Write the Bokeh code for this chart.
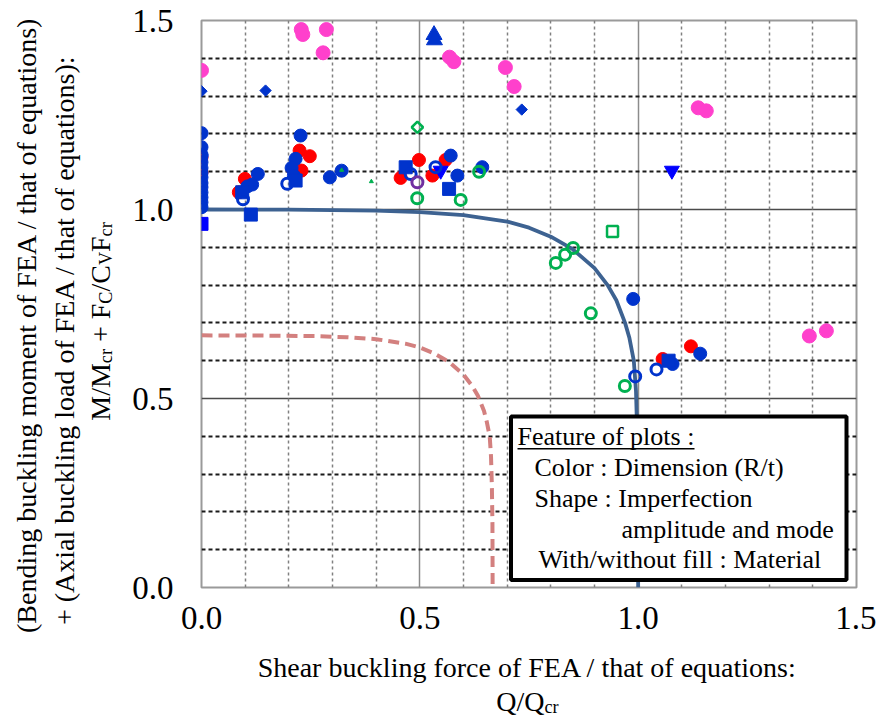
import numpy as np
from bokeh.plotting import figure
from bokeh.layouts import column, row
from bokeh.models import Range1d, FixedTicker, Grid, Label, BoxAnnotation, NumeralTickFormatter
from bokeh.embed import file_html
from bokeh.resources import INLINE

# ---------------- data ----------------
curve_x = [0.0, 0.2, 0.4, 0.5, 0.6, 0.7, 0.75, 0.8, 0.85, 0.9, 0.93, 0.95, 0.97, 0.98, 0.99, 0.995, 0.998, 0.9995, 1.0]
curve_y = [1.0, 0.9995, 0.997, 0.993, 0.985, 0.968, 0.952, 0.928, 0.895, 0.845, 0.80, 0.76, 0.70, 0.66, 0.60, 0.52, 0.40, 0.25, 0.0]

dash_x = [0.0, 0.133, 0.267, 0.333, 0.4, 0.467, 0.5, 0.533, 0.567, 0.6, 0.62, 0.633, 0.647, 0.653, 0.66, 0.663, 0.665, 0.6663, 0.6667]
dash_y = [0.667, 0.6665, 0.665, 0.662, 0.657, 0.645, 0.635, 0.619, 0.597, 0.563, 0.533, 0.507, 0.467, 0.44, 0.40, 0.347, 0.267, 0.167, 0.0]

pink_x = [0.0, 0.2285, 0.232, 0.286, 0.2785, 0.568, 0.578, 0.696, 0.716, 1.1375, 1.156, 1.392, 1.431]
pink_y = [1.368, 1.476, 1.463, 1.476, 1.4145, 1.403, 1.391, 1.3756, 1.3253, 1.269, 1.261, 0.6654, 0.679]

red_x = [0.0, 0.0, 0.0993, 0.0855, 0.2246, 0.248, 0.209, 0.229, 0.498, 0.456, 0.559, 0.5287, 1.056, 1.1208]
red_y = [1.138, 1.098, 1.081, 1.0455, 1.156, 1.141, 1.107, 1.103, 1.131, 1.0836, 1.131, 1.0897, 0.6045, 0.638]

blue_x = [0.0, 0.0, 0.0, 0.0, 0.0, 0.0, 0.0, 0.0, 0.0, 0.0, 0.0, 0.0,
          0.129, 0.116, 0.105, 0.2269, 0.2155, 0.2063, 0.2116, 0.294, 0.3209,
          0.5707, 0.586, 0.643, 0.9886, 1.0788, 1.1421]
blue_y = [1.202, 1.165, 1.145, 1.125, 1.11, 1.085, 1.07, 1.059, 1.045, 1.032, 1.019, 1.006,
          1.094, 1.066, 1.061, 1.1956, 1.134, 1.110, 1.0897, 1.085, 1.1027,
          1.1426, 1.0897, 1.112, 0.7634, 0.5913, 0.6186]

blue_open_x = [0.0, 0.0, 0.095, 0.1964, 0.479, 0.536, 0.9932, 1.042]
blue_open_y = [1.141, 1.097, 1.027, 1.068, 1.094, 1.112, 0.5585, 0.577]

green_open_x = [0.494, 0.5936, 0.6357, 0.8114, 0.8327, 0.851, 0.8916, 0.9695]
green_open_y = [1.0297, 1.0254, 1.100, 0.8587, 0.8806, 0.8983, 0.7253, 0.533]

green_sq_x = [0.9413]
green_sq_y = [0.9415]

green_dia_x = [0.4944]
green_dia_y = [1.2176]

purple_open_x = [0.4944]
purple_open_y = [1.072]

blue_sq_x = [0.113, 0.0932, 0.2155, 0.4676, 0.567, 1.0697]
blue_sq_y = [0.9865, 1.0455, 1.0766, 1.1117, 1.0545, 0.600]

pure_sq_x = [0.0]
pure_sq_y = [0.962]

blue_dia_x = [0.0, 0.1467, 0.7334]
blue_dia_y = [1.313, 1.3147, 1.2644]

blue_tri_x = [0.5325, 0.5335]
blue_tri_y = [1.462, 1.448]

pure_tri_dn_x = [1.0773, 0.5478]
pure_tri_dn_y = [1.103, 1.103]

tiny_x = [0.321, 0.389]
tiny_y = [1.104, 1.074]

x_ticks = [0.0, 0.5, 1.0, 1.5]
y_ticks = [0.0, 0.5, 1.0, 1.5]
major_grid = [0.5, 1.0]
minor_grid = [0.1, 0.2, 0.3, 0.4, 0.6, 0.7, 0.8, 0.9, 1.1, 1.2, 1.3, 1.4]

x_title = "Shear buckling force of FEA / that of equations:"
x_title2 = [("Q/Q", False), ("cr", True)]
y_title1 = "(Bending buckling moment of FEA  / that of equations)"
y_title2 = "+ (Axial buckling load of FEA  / that of equations):"
y_title3 = [("M/M", False), ("cr", True), (" + F", False), ("C", True), ("/C", False), ("V", True), ("F", False), ("cr", True)]
box_lines = ["Feature of plots :", "Color : Dimension (R/t)", "Shape : Imperfection",
             "amplitude and mode", "With/without fill : Material"]

# ---------------- layout ----------------
W, H = 876, 722
LW = 124            # width of the left title strip
BH = 70             # height of the bottom title strip
FL, FR, FT, FB = 201, 856, 20, 587   # plot frame in page pixels
SERIF = "Liberation Serif"
BASE_FIX = 9        # rendered alphabetic baseline sits lower than requested


def dx(px):
    return (px - FL) / (FR - FL) * 1.5


def dy(py):
    return (FB - py) / (FB - FT) * 1.5


def no_align(f):
    try:
        f.frame_align = False
    except Exception:
        pass


p = figure(width=W - LW, height=H - BH, x_range=Range1d(0, 1.5), y_range=Range1d(0, 1.5),
           output_backend="svg", toolbar_location=None,
           min_border_left=FL - LW, min_border_right=W - FR,
           min_border_top=FT, min_border_bottom=H - BH - FB)
no_align(p)
p.background_fill_color = "white"
p.border_fill_color = "white"
p.outline_line_color = "#9a9a9a"
p.outline_line_width = 2

for ax in (p.xaxis, p.yaxis):
    ax.axis_line_color = None
    ax.major_tick_line_color = None
    ax.minor_tick_line_color = None
    ax.major_tick_in = 0
    ax.major_tick_out = 0
    ax.minor_tick_in = 0
    ax.minor_tick_out = 0
    ax.major_label_text_font = SERIF
    ax.major_label_text_font_size = "33px"
    ax.major_label_text_color = "black"
    ax.formatter = NumeralTickFormatter(format="0.0")
p.xaxis.ticker = FixedTicker(ticks=x_ticks)
p.yaxis.ticker = FixedTicker(ticks=y_ticks)
p.xaxis.major_label_standoff = 19
p.yaxis.major_label_standoff = 28

p.xgrid.ticker = FixedTicker(ticks=major_grid)
p.ygrid.ticker = FixedTicker(ticks=major_grid)
p.xgrid.grid_line_color = "#8c8c8c"
p.xgrid.grid_line_width = 1.5
p.ygrid.grid_line_color = "#4a4a4a"
p.ygrid.grid_line_width = 1.3

p.add_layout(Grid(dimension=0, ticker=FixedTicker(ticks=minor_grid), grid_line_color="#808080",
                  grid_line_width=1.5, grid_line_dash="3 3"))
p.add_layout(Grid(dimension=1, ticker=FixedTicker(ticks=minor_grid), grid_line_color="#1a1a1a",
                  grid_line_width=1.8, grid_line_dash="4 3"))

# curves
p.line(curve_x, curve_y, line_color="#3D6291", line_width=3.8)
p.line(dash_x, dash_y, line_color="#D3807F", line_width=4, line_dash="11 6")

# markers
BLUE = "#0033CC"
p.scatter(red_x, red_y, marker="circle", size=13, fill_color="#FF0000", line_color="#FF0000")
p.scatter(pink_x, pink_y, marker="circle", size=14, fill_color="#FF40CC", line_color="#FF40CC")
p.scatter(blue_x, blue_y, marker="circle", size=13, fill_color=BLUE, line_color=BLUE)
p.scatter(blue_sq_x, blue_sq_y, marker="square", size=13, fill_color=BLUE, line_color=BLUE)
p.scatter(pure_sq_x, pure_sq_y, marker="square", size=13, fill_color="#0000FF", line_color="#0000FF")
p.scatter(blue_dia_x, blue_dia_y, marker="square", angle=np.pi / 4, size=8, fill_color=BLUE, line_color=BLUE)
p.scatter(blue_tri_x, blue_tri_y, marker="triangle", size=16, fill_color=BLUE, line_color=BLUE)
p.scatter(pure_tri_dn_x, pure_tri_dn_y, marker="inverted_triangle", size=15, fill_color="#0000FF", line_color="#0000FF")
p.scatter(blue_open_x, blue_open_y, marker="circle", size=11, fill_color=None, line_color=BLUE, line_width=3)
p.scatter(green_open_x, green_open_y, marker="circle", size=11, fill_color=None, line_color="#00B050", line_width=3)
p.scatter(green_sq_x, green_sq_y, marker="square", size=11, fill_color=None, line_color="#00B050", line_width=2.5)
p.scatter(green_dia_x, green_dia_y, marker="square", angle=np.pi / 4, size=8, fill_color=None, line_color="#00B050", line_width=2.5)
p.scatter(purple_open_x, purple_open_y, marker="circle", size=11, fill_color=None, line_color="#7030A0", line_width=3)
p.scatter(tiny_x, tiny_y, marker="triangle", size=4, fill_color="#00B050", line_color="#00B050")

# ---------------- feature box (inside the frame) ----------------
p.add_layout(BoxAnnotation(left=dx(510.5), right=dx(846), top=dy(416), bottom=dy(579.5),
                           fill_color="white", fill_alpha=1.0, line_color="black", line_alpha=1.0, line_width=4))
p.add_layout(BoxAnnotation(left=dx(517), right=dx(694), top=dy(447.5), bottom=dy(449),
                           fill_color="black", fill_alpha=1.0, line_color=None))
LS = 26
for txt, (bx, by) in zip(box_lines, [(517, 445), (534, 476), (534, 507), (621, 538), (538, 568)]):
    p.add_layout(Label(x=dx(bx), y=dy(by - BASE_FIX), text=txt, text_font=SERIF, text_font_size=f"{LS}px",
                       text_color="black", text_align="left", text_baseline="alphabetic"))


# ---------------- title strips (pixel-mapped figures) ----------------
def strip(w, h):
    f = figure(width=w, height=h, x_range=Range1d(0, w), y_range=Range1d(h, 0),
               output_backend="svg", toolbar_location=None, min_border=0,
               x_axis_location=None, y_axis_location=None)
    no_align(f)
    f.grid.visible = False
    f.outline_line_color = None
    f.background_fill_color = "white"
    f.border_fill_color = "white"
    return f


CW = {'M': 889, '/': 278, 'c': 444, 'r': 333, ' ': 250, '+': 564, 'F': 556, 'C': 667, 'V': 722, 'Q': 722}


def put(f, text, x, y, size, align="left", baseline="alphabetic", angle=0.0):
    f.add_layout(Label(x=x, y=y, text=text, text_font=SERIF, text_font_size=f"{size}px",
                       text_color="black", text_align=align, text_baseline=baseline, angle=angle))


def put_rich(f, parts, cx, cy, size, vertical=False):
    sub = 0.65
    widths = [sum(CW[ch] for ch in t) * size * (sub if s else 1) / 1000 for t, s in parts]
    pos = -sum(widths) / 2
    for (t, s), w in zip(parts, widths):
        fs = round(size * sub, 1) if s else size
        off = size * 0.2 if s else 0
        body = t.lstrip(" ")
        lead = (len(t) - len(body)) * CW[' '] * fs / 1000   # svg drops leading blanks
        if vertical:
            put(f, body, cx + off - BASE_FIX, cy - pos - lead, fs, angle=np.pi / 2)
        else:
            put(f, body, cx + pos + lead, cy + off - BASE_FIX, fs)
        pos += w


TS = 28
left = strip(LW, H - BH)
put(left, y_title1, 26, 321, TS, align="center", baseline="middle", angle=np.pi / 2)
put(left, y_title2, 64, 336, TS, align="center", baseline="middle", angle=np.pi / 2)
put_rich(left, y_title3, 109, 321, TS, vertical=True)

bottom = strip(W, BH)
y0 = H - BH
put(bottom, x_title, 527, 676 - y0 - BASE_FIX, TS, align="center")
put_rich(bottom, x_title2, 527, 710 - y0, TS)

layout = column(row(left, p), bottom)
open("out.html", "w").write(file_html(layout, INLINE))
